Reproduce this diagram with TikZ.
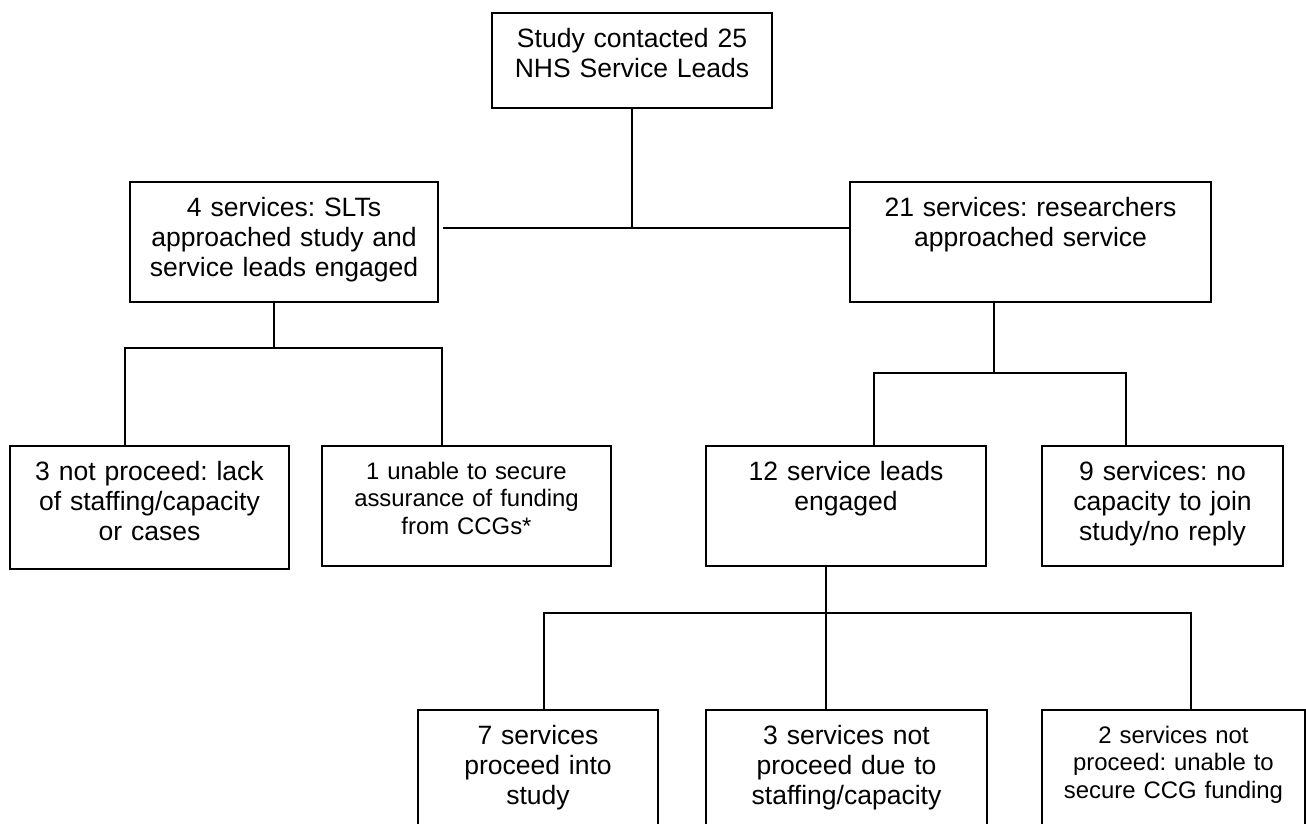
\documentclass[tikz,border=0pt]{standalone}
\usepackage{fontspec}
\setmainfont{Liberation Sans}
\frenchspacing

\begin{document}
\begin{tikzpicture}[
	x=0.02cm, y=-0.02cm,
	box/.style={draw, line width=0.9pt, inner sep=0pt, anchor=north, align=center, text height=0.7cm, text depth=1.7cm},
	smallbox/.style={box, font=\fontsize{13.6pt}{15.7pt}\selectfont, text height=0.67cm, text depth=1.73cm},
	link/.style={line width=0.9pt},
	every node/.style={font=\fontsize{15.1pt}{17.1pt}\selectfont}
]
	\useasboundingbox (0,0) rectangle (1306,823);
	\clip (0,0) rectangle (1306,823);

	\node[box, text width=5.6cm, text depth=1.2cm] (top) at (632,12) {Study contacted 25\\NHS Service Leads};
	\node[box, text width=6.15cm] (left) at (284,181) {4 services: SLTs\\approached study and\\service leads engaged};
	\node[box, text width=7.22cm] (right) at (1030.5,181) {21 services: researchers\\approached service};

	\node[box, text width=5.58cm, text depth=1.76cm] (a1) at (149.5,445) {3 not proceed: lack\\of staffing/capacity\\or cases};
	\node[smallbox, text width=5.78cm] (a2) at (466.5,445) {1 unable to secure\\assurance of funding\\from CCGs*};
	\node[box, text width=5.6cm] (b1) at (846,445) {12 service leads\\engaged};
	\node[box, text width=4.82cm] (b2) at (1162.5,445) {9 services: no\\capacity to join\\study/no reply};

	\node[box, text width=4.8cm] (c1) at (538,709) {7 services\\proceed into\\study};
	\node[box, text width=5.62cm] (c2) at (846.5,709) {3 services not\\proceed due to\\staffing/capacity};
	\node[smallbox, text width=5.26cm] (c3) at (1173.5,709) {2 services not\\proceed: unable to\\secure CCG funding};

	\coordinate (j0) at (632,228);
	\coordinate (jl) at (274,348);
	\coordinate (jla) at (125,348);
	\coordinate (jlb) at (442,348);
	\coordinate (jr) at (994,373);
	\coordinate (jra) at (874,373);
	\coordinate (jrb) at (1126,373);
	\coordinate (jb) at (826,613);
	\coordinate (jba) at (544,613);
	\coordinate (jbc) at (1191,613);

	% first split
	\draw[link] (top) -- (j0);
	\draw[link] ([xshift=0.09cm]left.east |- j0) -- (right.west |- j0);

	% left branch
	\draw[link] (left.south -| jl) -- (jl);
	\draw[link] (a1.north -| jla) |- (jlb) -- (jlb |- a2.north);

	% right branch
	\draw[link] (right.south -| jr) -- (jr);
	\draw[link] (b1.north -| jra) |- (jrb) -- (jrb |- b2.north);

	% engaged services
	\draw[link] (b1.south -| jb) -- (jb);
	\draw[link] (c1.north -| jba) |- (jbc) -- (jbc |- c3.north);
	\draw[link] (jb) -- (jb |- c2.north);
\end{tikzpicture}
\end{document}
